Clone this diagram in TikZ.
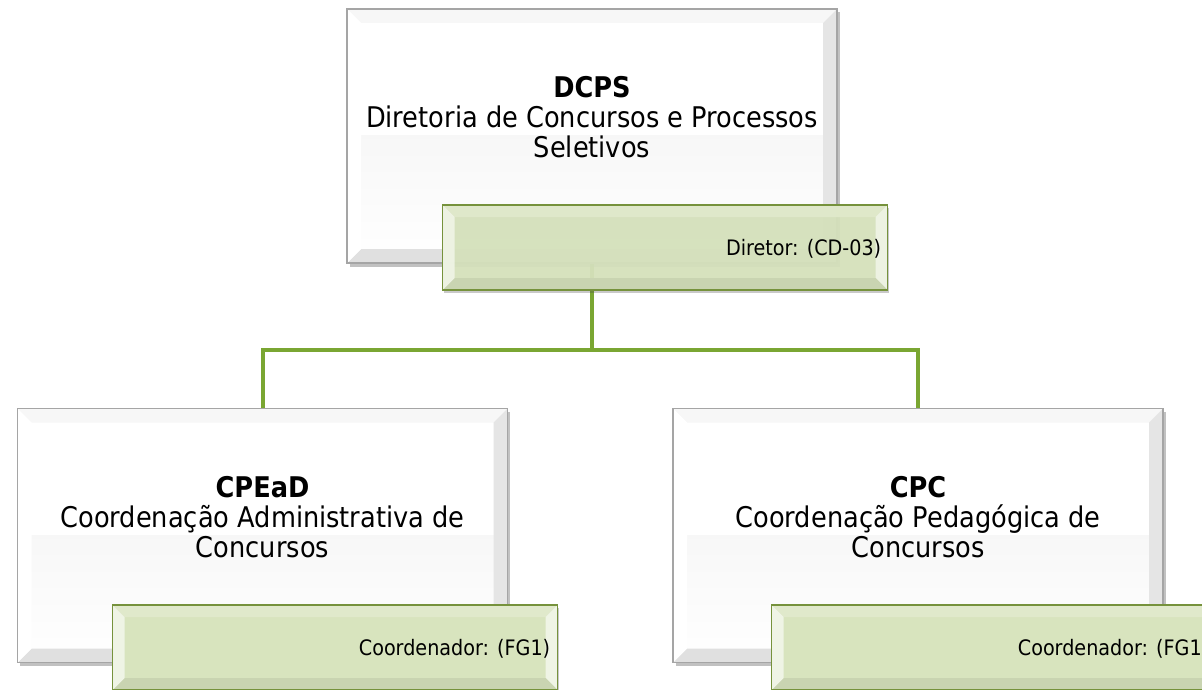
\documentclass[tikz,border=0pt]{standalone}
\usepackage{fontspec}
\setmainfont{DejaVu Sans}[FakeStretch=0.9]
\usetikzlibrary{shadows,calc,backgrounds}
\definecolor{boxborder}{RGB}{165,165,165}
\definecolor{gfill}{RGB}{216,228,190}
\definecolor{gborder}{RGB}{118,146,60}
\definecolor{connc}{RGB}{122,166,50}
\newcommand{\mybevel}[5]{%
 \fill[#2] (path picture bounding box.north west) -- (path picture bounding box.north east) -- ($(path picture bounding box.north east)+(-#1pt,-#1pt)$) -- ($(path picture bounding box.north west)+(#1pt,-#1pt)$) -- cycle;
 \fill[#3] (path picture bounding box.north east) -- (path picture bounding box.south east) -- ($(path picture bounding box.south east)+(-#1pt,#1pt)$) -- ($(path picture bounding box.north east)+(-#1pt,-#1pt)$) -- cycle;
 \fill[#4] (path picture bounding box.south east) -- (path picture bounding box.south west) -- ($(path picture bounding box.south west)+(#1pt,#1pt)$) -- ($(path picture bounding box.south east)+(-#1pt,#1pt)$) -- cycle;
 \fill[#5] (path picture bounding box.south west) -- (path picture bounding box.north west) -- ($(path picture bounding box.north west)+(#1pt,-#1pt)$) -- ($(path picture bounding box.south west)+(#1pt,#1pt)$) -- cycle;
}
\tikzset{
 whitebox/.style={draw=boxborder, line width=1.6pt, fill=white, minimum width=490pt, minimum height=254pt, inner sep=0pt,
   drop shadow={shadow xshift=2.5pt, shadow yshift=-3.5pt, opacity=0.35, fill=black!70},
   path picture={
     \shade[top color=black!6, bottom color=white] (path picture bounding box.west) rectangle (path picture bounding box.south east);
     \mybevel{14}{black!3}{black!10}{black!12}{white}
   }},
 greenbox/.style={draw=gborder, line width=1.8pt, fill=gfill, minimum width=445pt, minimum height=85pt, inner sep=0pt,
   drop shadow={shadow xshift=1.5pt, shadow yshift=-2.5pt, opacity=0.3, fill=black!70},
   path picture={
     \mybevel{12}{gfill!80!white}{gfill!40!white}{gfill!93!black}{gfill!40!white}
   }},
 bigtext/.style={font=\fontsize{28.5}{30}\selectfont, align=center, inner sep=0pt, anchor=north},
 smalltext/.style={font=\fontsize{21.3}{25}\selectfont, inner sep=0pt, anchor=base east},
 conn/.style={draw=connc, line width=4pt, line join=miter}
}
\begin{document}
\begin{tikzpicture}[x=1pt,y=-1pt]
\useasboundingbox (0,0) rectangle (1202,690);
% top box
\node[whitebox] (dcps) at (592,136) {};
\node[bigtext] (dcpst) at ([yshift=-68pt]dcps.north) {\textbf{DCPS}\\Diretoria de Concursos e Processos\\Seletivos};
% lower boxes
\node[whitebox] (cpead) at (262.5,535.5) {};
\node[bigtext] (cpeadt) at ([yshift=-68pt]cpead.north) {\textbf{CPEaD}\\Coordenação Administrativa de\\Concursos};
\node[whitebox] (cpc) at (918,535.5) {};
\node[bigtext] (cpct) at ([yshift=-68pt]cpc.north) {\textbf{CPC}\\Coordenação Pedagógica de\\Concursos};
% green boxes
\node[greenbox, fill opacity=0.93] (g1) at (665,247.5) {};
\node[smalltext] (g1t) at ([xshift=-7pt,yshift=-7.5pt]g1.east) {Diretor: (CD-03)};
\node[greenbox] (g2) at (335,647.5) {};
\node[smalltext] (g2t) at ([xshift=-8pt,yshift=-7.5pt]g2.east) {Coordenador: (FG1)};
\node[greenbox] (g3) at (994,647.5) {};
\node[smalltext] (g3t) at ([xshift=-8pt,yshift=-7.5pt]g3.east) {Coordenador: (FG1)};
% connectors
\begin{pgfonlayer}{background}
\coordinate (hub) at (592,350);
\draw[conn] (dcps.south) -- (hub);
\draw[conn] (hub) -| (cpead.north);
\draw[conn] (hub) -| (cpc.north);
\end{pgfonlayer}
\end{tikzpicture}
\end{document}
